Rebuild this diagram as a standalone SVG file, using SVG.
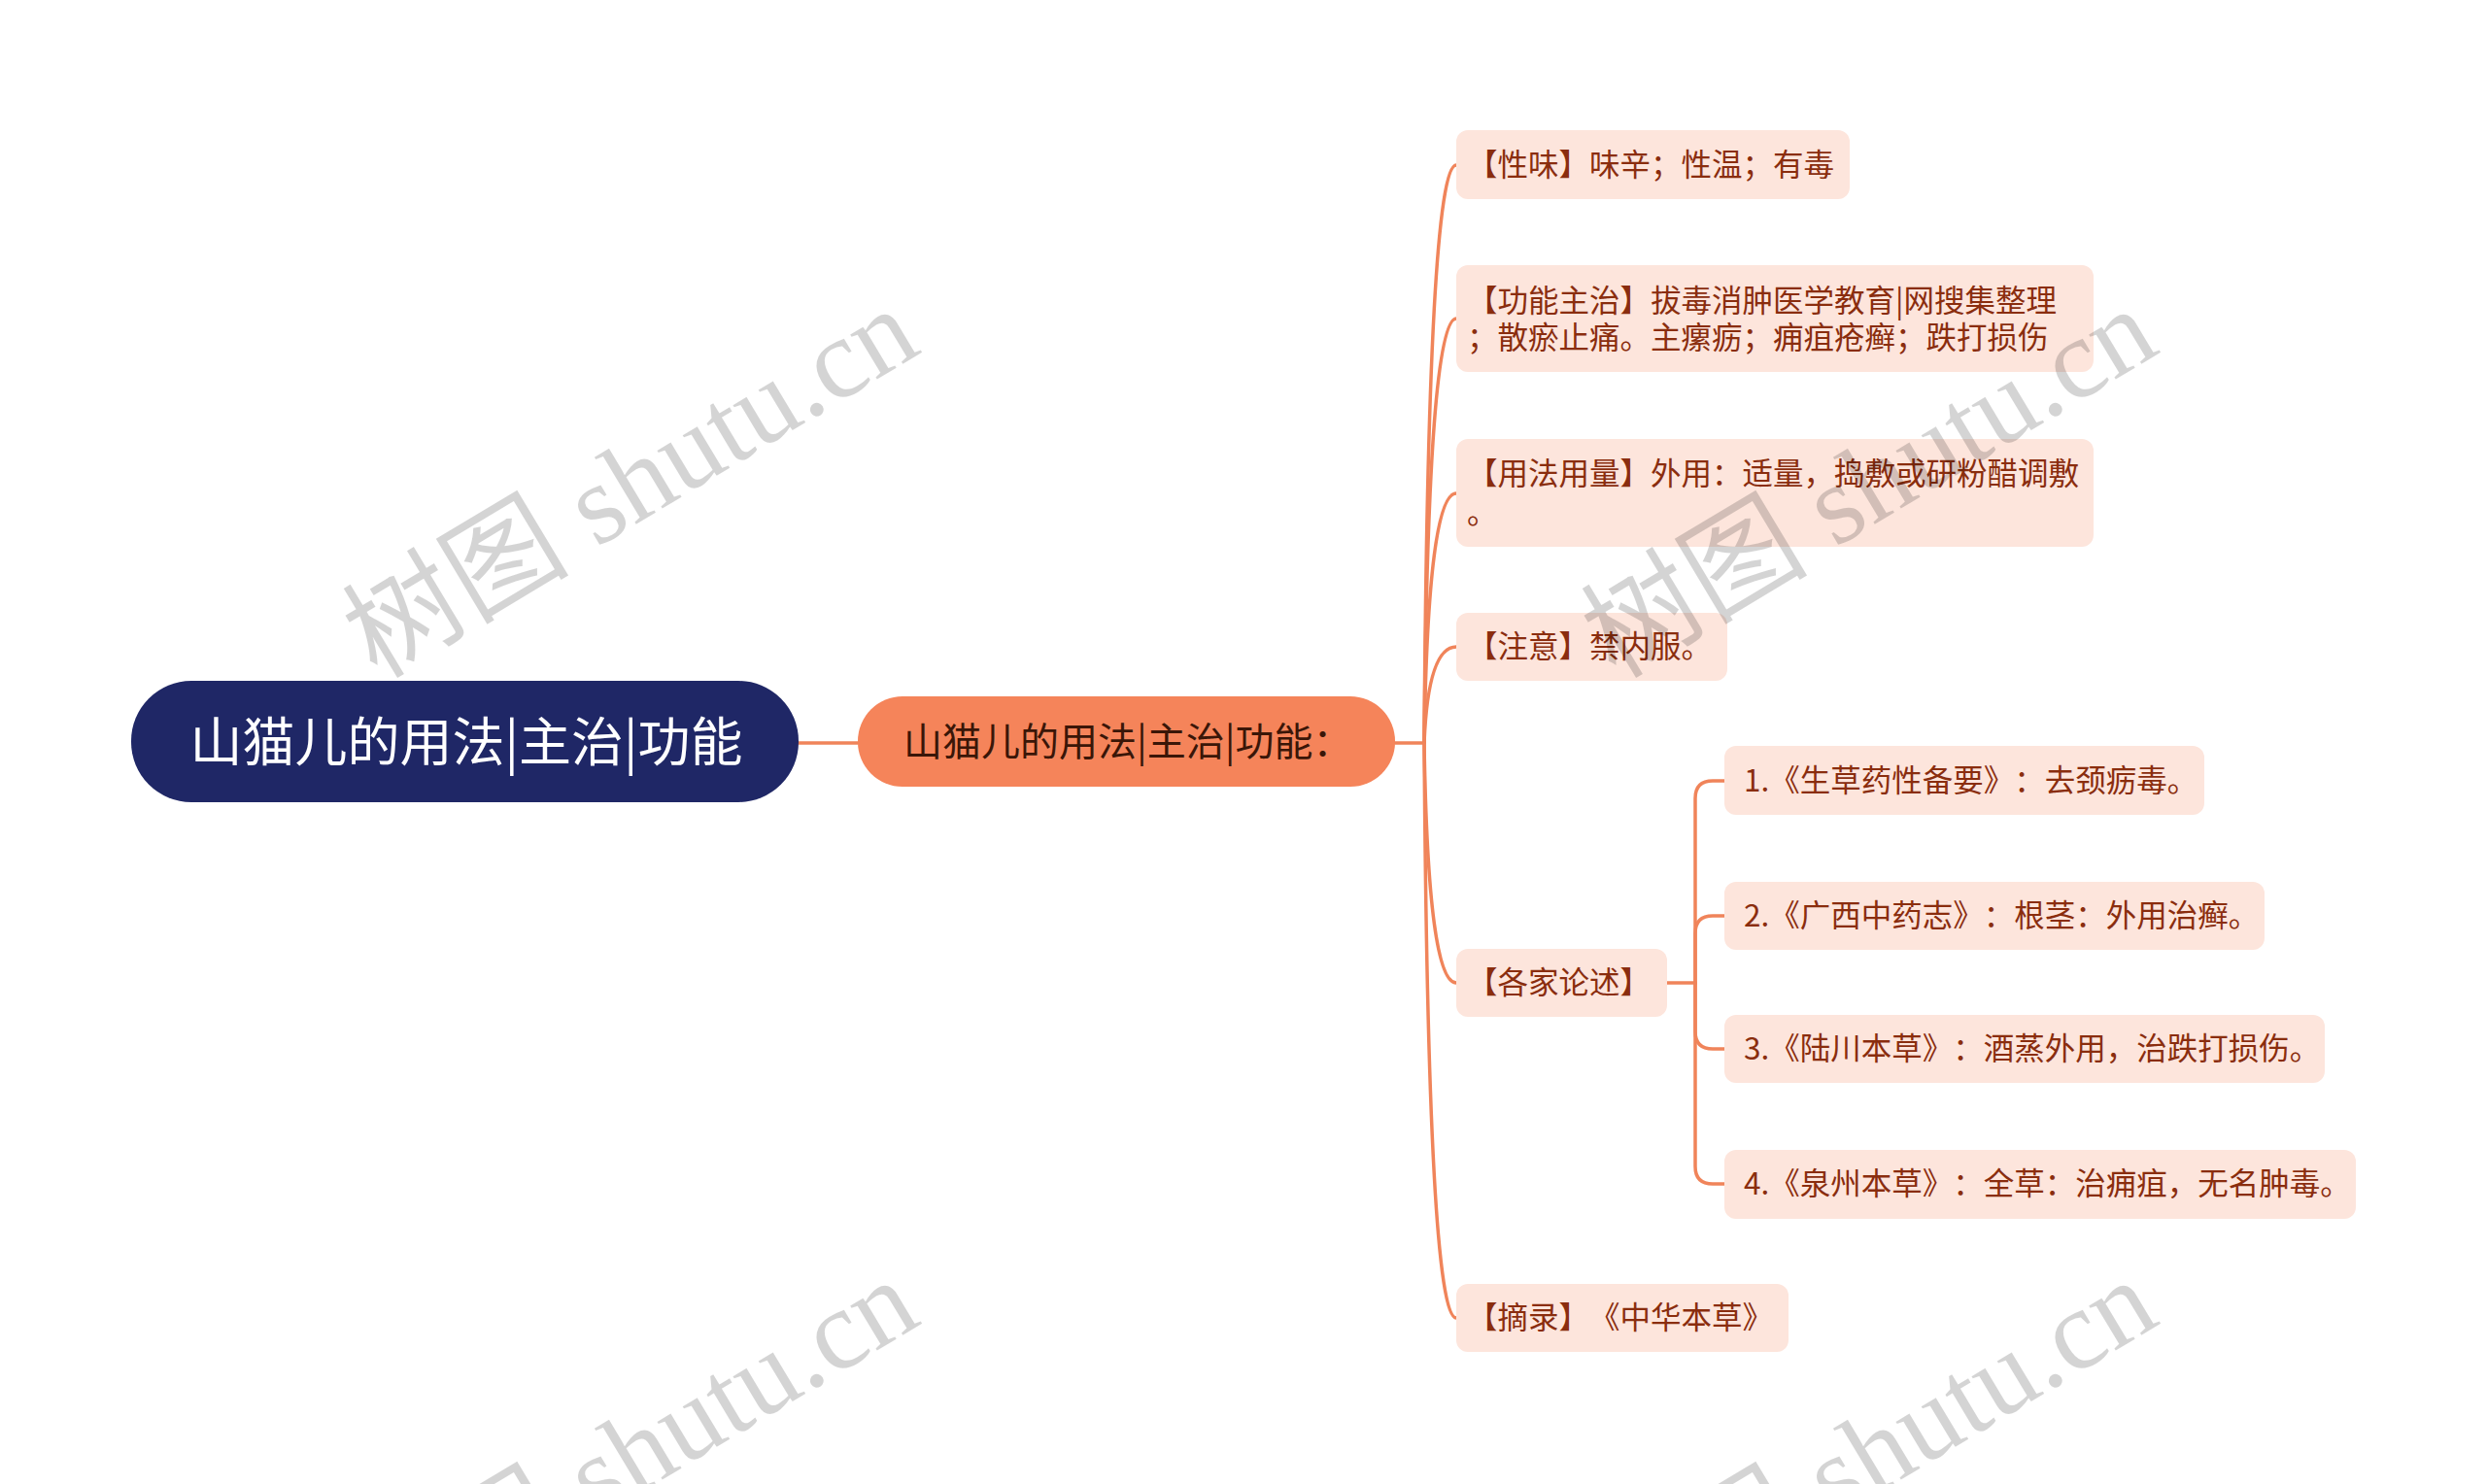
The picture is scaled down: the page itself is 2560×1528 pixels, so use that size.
<svg xmlns="http://www.w3.org/2000/svg" width="2560" height="1528" viewBox="0 0 2560 1528">
<style>
text{text-spacing-trim:space-all;font-feature-settings:"chws" 0,"halt" 0}
.box{fill:#FDE5DC}
.t{font-family:"Noto Sans CJK SC","Noto Sans",sans-serif;font-size:31.5px;fill:#8A2D0E}
.ln{fill:none;stroke:#F0845A;stroke-width:3.5;stroke-linecap:round}
.wm{font-family:"Liberation Serif","Noto Sans CJK SC",serif;font-size:117px;fill:#000;fill-opacity:0.17}
</style>
<rect x="0" y="0" width="2560" height="1528" fill="#FFFFFF"/>
<g id="connectors">
<path class="ln" d="M822 765 H883"/>
<path class="ln" d="M1436 765 H1466"/>
<path class="ln" d="M1466 765 Q1470 170 1499 170"/>
<path class="ln" d="M1466 765 Q1470 328 1499 328"/>
<path class="ln" d="M1466 765 Q1470 508 1499 508"/>
<path class="ln" d="M1466 765 Q1470 666 1499 666"/>
<path class="ln" d="M1466 765 Q1470 1012 1499 1012"/>
<path class="ln" d="M1466 765 Q1470 1357 1499 1357"/>
<path class="ln" d="M1716 1012 H1745 V822 Q1745 804 1763 804 H1775"/>
<path class="ln" d="M1745 1012 V961 Q1745 943 1763 943 H1775"/>
<path class="ln" d="M1745 1012 V1062 Q1745 1080 1763 1080 H1775"/>
<path class="ln" d="M1745 1012 V1201 Q1745 1219 1763 1219 H1775"/>
</g>
<g id="root">
<rect x="135" y="701" width="687" height="125" rx="62" fill="#1F2766"/>
<text x="480" y="784" text-anchor="middle" style="font-family:'Noto Sans CJK SC',sans-serif;font-size:54px;fill:#FFFFFF">山猫儿的用法|主治|功能</text>
</g>
<g id="main">
<rect x="883" y="717" width="553" height="93" rx="46" fill="#F5845A"/>
<text x="930" y="778" style="font-family:'Noto Sans CJK SC',sans-serif;font-size:40px;fill:#3A1608">山猫儿的用法|主治|功能：</text>
</g>
<g id="n1">
<rect class="box" x="1499" y="134" width="405" height="71" rx="12"/>
<text class="t" x="1510" y="181">【性味】味辛；性温；有毒</text>
</g>
<g id="n2">
<rect class="box" x="1499" y="273" width="656" height="110" rx="12"/>
<text class="t" x="1510" y="321">【功能主治】拔毒消肿医学教育|网搜集整理</text>
<text class="t" x="1510" y="359">；散瘀止痛。主瘰疬；痈疽疮癣；跌打损伤</text>
</g>
<g id="n3">
<rect class="box" x="1499" y="452" width="656" height="111" rx="12"/>
<text class="t" x="1510" y="499">【用法用量】外用：适量，捣敷或研粉醋调敷</text>
<text class="t" x="1510" y="539">。</text>
</g>
<g id="n4">
<rect class="box" x="1499" y="631" width="279" height="70" rx="12"/>
<text class="t" x="1510" y="677">【注意】禁内服。</text>
</g>
<g id="n5">
<rect class="box" x="1499" y="977" width="217" height="70" rx="12"/>
<text class="t" x="1510" y="1023">【各家论述】</text>
</g>
<g id="n5a">
<rect class="box" x="1775" y="768" width="494" height="71" rx="12"/>
<text class="t" x="1795" y="815">1.《生草药性备要》：去颈疬毒。</text>
</g>
<g id="n5b">
<rect class="box" x="1775" y="908" width="556" height="70" rx="12"/>
<text class="t" x="1795" y="954">2.《广西中药志》：根茎：外用治癣。</text>
</g>
<g id="n5c">
<rect class="box" x="1775" y="1045" width="618" height="70" rx="12"/>
<text class="t" x="1795" y="1091">3.《陆川本草》：酒蒸外用，治跌打损伤。</text>
</g>
<g id="n5d">
<rect class="box" x="1775" y="1184" width="650" height="71" rx="12"/>
<text class="t" x="1795" y="1230">4.《泉州本草》：全草：治痈疽，无名肿毒。</text>
</g>
<g id="n6">
<rect class="box" x="1499" y="1322" width="342" height="70" rx="12"/>
<text class="t" x="1510" y="1368">【摘录】《中华本草》</text>
</g>
<g id="watermarks">
<text class="wm" transform="translate(388,700) rotate(-31)">树图 shutu.cn</text>
<text class="wm" transform="translate(1663,700) rotate(-31)">树图 shutu.cn</text>
<text class="wm" transform="translate(388,1700) rotate(-31)">树图 shutu.cn</text>
<text class="wm" transform="translate(1663,1700) rotate(-31)">树图 shutu.cn</text>
</g>
</svg>
